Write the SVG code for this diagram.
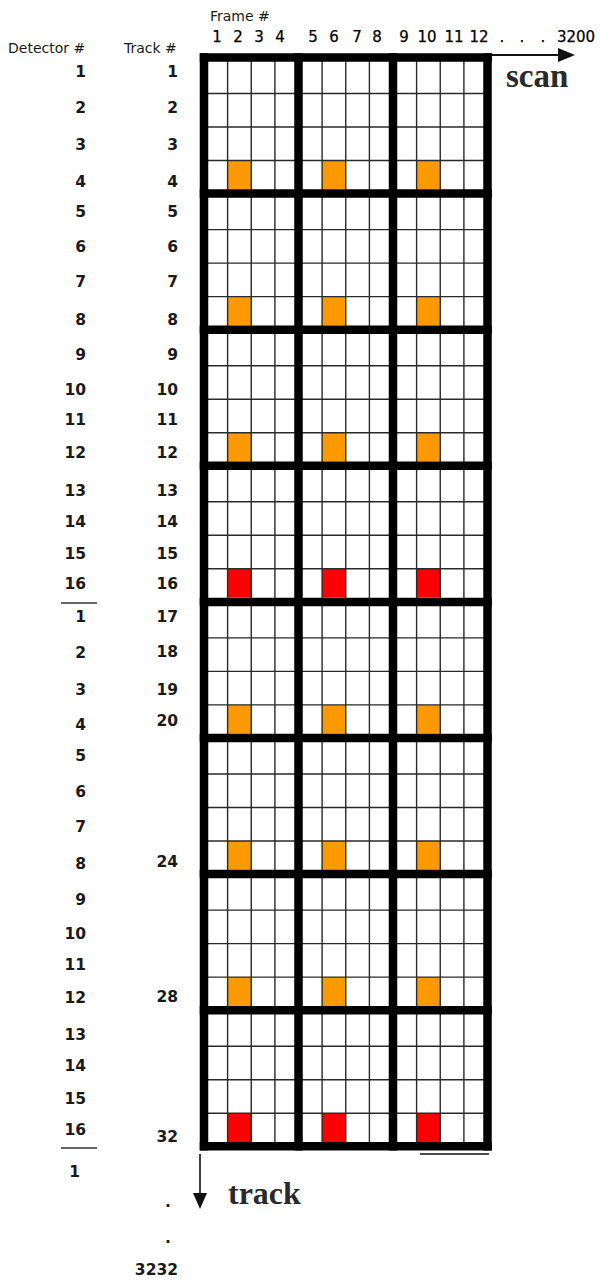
<svg xmlns="http://www.w3.org/2000/svg" width="600" height="1280" viewBox="0 0 600 1280">
<style>
.hd{font-family:"DejaVu Sans","Liberation Sans",sans-serif;font-size:14px;fill:#1a1a1a}
.fn{font-family:"DejaVu Sans","Liberation Sans",sans-serif;font-size:15px;fill:#000;text-anchor:middle;stroke:#000;stroke-width:0.25}
.dn{font-family:"DejaVu Sans","Liberation Sans",sans-serif;font-size:15.5px;font-weight:bold;fill:#1a1a1a;text-anchor:end}
.big{font-family:"Liberation Serif","Times New Roman",serif;font-weight:bold;fill:#2a2a2a}
.thin{stroke:#2a2a2a;stroke-width:1.4;fill:none}
.thick{stroke:#000;stroke-width:8.5;fill:none}
.o{fill:#FF9900}
.r{fill:#FF0000}
.sep{stroke:#333;stroke-width:1.3}
</style>
<rect width="600" height="1280" fill="#fff"/>

<g id="headers">
<text class="hd" x="210" y="21">Frame #</text>
<text class="hd" x="8" y="53">Detector #</text>
<text class="hd" x="124" y="53">Track #</text>
</g>

<g id="frame-numbers">
<text class="fn" x="217" y="42">1</text>
<text class="fn" x="238" y="42">2</text>
<text class="fn" x="259" y="42">3</text>
<text class="fn" x="280" y="42">4</text>
<text class="fn" x="313" y="42">5</text>
<text class="fn" x="334" y="42">6</text>
<text class="fn" x="357" y="42">7</text>
<text class="fn" x="377" y="42">8</text>
<text class="fn" x="404" y="42">9</text>
<text class="fn" x="427" y="42">10</text>
<text class="fn" x="454" y="42">11</text>
<text class="fn" x="479" y="42">12</text>
<text class="fn" x="502" y="42">.</text>
<text class="fn" x="522" y="42">.</text>
<text class="fn" x="543" y="42">.</text>
<text class="fn" x="576" y="42">3200</text>
</g>

<g id="detector-numbers">
<text class="dn" x="86" y="77">1</text>
<text class="dn" x="86" y="113">2</text>
<text class="dn" x="86" y="150">3</text>
<text class="dn" x="86" y="187">4</text>
<text class="dn" x="86" y="217">5</text>
<text class="dn" x="86" y="252">6</text>
<text class="dn" x="86" y="287">7</text>
<text class="dn" x="86" y="325">8</text>
<text class="dn" x="86" y="360">9</text>
<text class="dn" x="86" y="395">10</text>
<text class="dn" x="86" y="425">11</text>
<text class="dn" x="86" y="458">12</text>
<text class="dn" x="86" y="496">13</text>
<text class="dn" x="86" y="527">14</text>
<text class="dn" x="86" y="559">15</text>
<text class="dn" x="86" y="589">16</text>
<text class="dn" x="86" y="622">1</text>
<text class="dn" x="86" y="658">2</text>
<text class="dn" x="86" y="695">3</text>
<text class="dn" x="86" y="730">4</text>
<text class="dn" x="86" y="761">5</text>
<text class="dn" x="86" y="797">6</text>
<text class="dn" x="86" y="832">7</text>
<text class="dn" x="86" y="869">8</text>
<text class="dn" x="86" y="905">9</text>
<text class="dn" x="86" y="939">10</text>
<text class="dn" x="86" y="970">11</text>
<text class="dn" x="86" y="1003">12</text>
<text class="dn" x="86" y="1040">13</text>
<text class="dn" x="86" y="1071">14</text>
<text class="dn" x="86" y="1104">15</text>
<text class="dn" x="86" y="1135">16</text>
<text class="dn" x="80" y="1177">1</text>
<line class="sep" x1="61" y1="603" x2="97" y2="603"/>
<line class="sep" x1="61" y1="1148" x2="97" y2="1148"/>
</g>

<g id="track-numbers">
<text class="dn" x="178" y="77">1</text>
<text class="dn" x="178" y="113">2</text>
<text class="dn" x="178" y="150">3</text>
<text class="dn" x="178" y="187">4</text>
<text class="dn" x="178" y="217">5</text>
<text class="dn" x="178" y="252">6</text>
<text class="dn" x="178" y="287">7</text>
<text class="dn" x="178" y="325">8</text>
<text class="dn" x="178" y="360">9</text>
<text class="dn" x="178" y="395">10</text>
<text class="dn" x="178" y="425">11</text>
<text class="dn" x="178" y="458">12</text>
<text class="dn" x="178" y="496">13</text>
<text class="dn" x="178" y="527">14</text>
<text class="dn" x="178" y="559">15</text>
<text class="dn" x="178" y="589">16</text>
<text class="dn" x="178" y="622">17</text>
<text class="dn" x="178" y="657">18</text>
<text class="dn" x="178" y="695">19</text>
<text class="dn" x="178" y="726">20</text>
<text class="dn" x="178" y="867">24</text>
<text class="dn" x="178" y="1002">28</text>
<text class="dn" x="178" y="1142">32</text>
<text class="dn" x="171" y="1207">.</text>
<text class="dn" x="171" y="1243">.</text>
<text class="dn" x="178" y="1275">3232</text>
</g>

<g id="cells">
<rect class="o" x="227.6" y="160.5" width="23.65" height="28.85"/>
<rect class="o" x="322.1" y="160.5" width="23.65" height="28.85"/>
<rect class="o" x="416.6" y="160.5" width="23.65" height="28.85"/>
<rect class="o" x="227.6" y="296.6" width="23.65" height="28.85"/>
<rect class="o" x="322.1" y="296.6" width="23.65" height="28.85"/>
<rect class="o" x="416.6" y="296.6" width="23.65" height="28.85"/>
<rect class="o" x="227.6" y="432.7" width="23.65" height="28.85"/>
<rect class="o" x="322.1" y="432.7" width="23.65" height="28.85"/>
<rect class="o" x="416.6" y="432.7" width="23.65" height="28.85"/>
<rect class="r" x="227.6" y="568.8" width="23.65" height="28.85"/>
<rect class="r" x="322.1" y="568.8" width="23.65" height="28.85"/>
<rect class="r" x="416.6" y="568.8" width="23.65" height="28.85"/>
<rect class="o" x="227.6" y="704.9" width="23.65" height="28.85"/>
<rect class="o" x="322.1" y="704.9" width="23.65" height="28.85"/>
<rect class="o" x="416.6" y="704.9" width="23.65" height="28.85"/>
<rect class="o" x="227.6" y="841" width="23.65" height="28.85"/>
<rect class="o" x="322.1" y="841" width="23.65" height="28.85"/>
<rect class="o" x="416.6" y="841" width="23.65" height="28.85"/>
<rect class="o" x="227.6" y="977.1" width="23.65" height="28.85"/>
<rect class="o" x="322.1" y="977.1" width="23.65" height="28.85"/>
<rect class="o" x="416.6" y="977.1" width="23.65" height="28.85"/>
<rect class="r" x="227.6" y="1113.2" width="23.65" height="28.85"/>
<rect class="r" x="322.1" y="1113.2" width="23.65" height="28.85"/>
<rect class="r" x="416.6" y="1113.2" width="23.65" height="28.85"/>
</g>

<g id="grid-thin" class="thin">
<path d="M227.6 57.5V1146.3M251.25 57.5V1146.3M274.9 57.5V1146.3M322.1 57.5V1146.3M345.75 57.5V1146.3M369.4 57.5V1146.3M416.6 57.5V1146.3M440.25 57.5V1146.3M463.9 57.5V1146.3"/>
<path d="M204 93.5H487.5M204 127H487.5M204 160.5H487.5M204 229.6H487.5M204 263.1H487.5M204 296.6H487.5M204 365.7H487.5M204 399.2H487.5M204 432.7H487.5M204 501.8H487.5M204 535.3H487.5M204 568.8H487.5M204 637.9H487.5M204 671.4H487.5M204 704.9H487.5M204 774H487.5M204 807.5H487.5M204 841H487.5M204 910.1H487.5M204 943.6H487.5M204 977.1H487.5M204 1046.2H487.5M204 1079.7H487.5M204 1113.2H487.5"/>
</g>

<g id="grid-thick" class="thick">
<path d="M204 53.25V1150.55M298.5 53.25V1150.55M393 53.25V1150.55M487.5 53.25V1150.55"/>
<path d="M199.75 57.5H491.75M199.75 193.6H491.75M199.75 329.7H491.75M199.75 465.8H491.75M199.75 601.9H491.75M199.75 738H491.75M199.75 874.1H491.75M199.75 1010.2H491.75M199.75 1146.3H491.75"/>
</g>

<g id="connectors">
<line x1="491" y1="55" x2="560" y2="55" stroke="#111" stroke-width="2"/>
<polygon points="558,48 575,55 558,62" fill="#111"/>
<line x1="200" y1="1154" x2="200" y2="1195" stroke="#111" stroke-width="1.6"/>
<polygon points="193,1193 207,1193 200,1209" fill="#111"/>
<line x1="420" y1="1154" x2="489" y2="1154" stroke="#111" stroke-width="1.3"/>
</g>

<g id="axis-labels">
<text class="big" x="506" y="87" font-size="33">scan</text>
<text class="big" x="228" y="1204" font-size="32">track</text>
</g>
</svg>
